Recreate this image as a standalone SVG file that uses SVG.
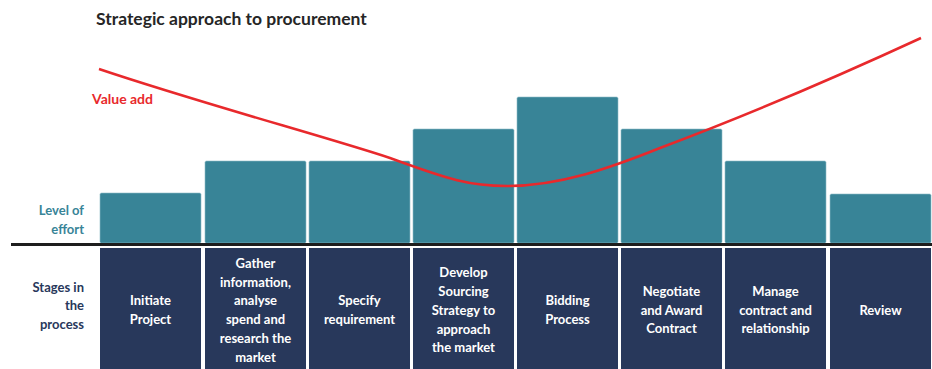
<svg xmlns="http://www.w3.org/2000/svg" width="932" height="369" viewBox="0 0 932 369">
<style>
.bar{fill:#388497;stroke:#8fbcc7;stroke-width:0.6}
.stage{fill:#28385b}
.st{font-family:Lato,"Liberation Sans",sans-serif;font-weight:bold;font-size:13px;fill:#ffffff;text-anchor:middle}
.lbl{font-family:Lato,"Liberation Sans",sans-serif;font-weight:bold;font-size:13px;text-anchor:end}
</style>
<rect width="932" height="369" fill="#ffffff"/>
<text x="96" y="25" font-family="Lato,'Liberation Sans',sans-serif" font-weight="bold" font-size="17.5" fill="#262626">Strategic approach to procurement</text>
<g id="effort-label"><text class="lbl" fill="#388497"><tspan x="84" y="215">Level of</tspan><tspan x="84" y="234">effort</tspan></text></g>
<g id="stages-label"><text class="lbl" fill="#28385b"><tspan x="84" y="292">Stages in</tspan><tspan x="84" y="310">the</tspan><tspan x="84" y="329">process</tspan></text></g>
<g id="bars">
<rect class="bar" x="100" y="193" width="101" height="50" rx="1.5"/>
<rect class="bar" x="205" y="161" width="101" height="82" rx="1.5"/>
<rect class="bar" x="309" y="161" width="101" height="82" rx="1.5"/>
<rect class="bar" x="413" y="129" width="101" height="114" rx="1.5"/>
<rect class="bar" x="517" y="97" width="101" height="146" rx="1.5"/>
<rect class="bar" x="621" y="129" width="101" height="114" rx="1.5"/>
<rect class="bar" x="725" y="161" width="101" height="82" rx="1.5"/>
<rect class="bar" x="830" y="194" width="101" height="49" rx="1.5"/>
</g>
<line x1="11" y1="244.5" x2="932" y2="244.5" stroke="#1e1e1e" stroke-width="3"/>
<g id="s1"><rect class="stage" x="100" y="248" width="101" height="121"/><text class="st"><tspan x="150.5" y="305">Initiate</tspan><tspan x="150.5" y="324">Project</tspan></text></g>
<g id="s2"><rect class="stage" x="205" y="248" width="101" height="121"/><text class="st"><tspan x="255.5" y="268">Gather</tspan><tspan x="255.5" y="287">information,</tspan><tspan x="255.5" y="305">analyse</tspan><tspan x="255.5" y="324">spend and</tspan><tspan x="255.5" y="343">research the</tspan><tspan x="255.5" y="362">market</tspan></text></g>
<g id="s3"><rect class="stage" x="309" y="248" width="101" height="121"/><text class="st"><tspan x="359.5" y="305">Specify</tspan><tspan x="359.5" y="324">requirement</tspan></text></g>
<g id="s4"><rect class="stage" x="413" y="248" width="101" height="121"/><text class="st"><tspan x="463.5" y="277">Develop</tspan><tspan x="463.5" y="296">Sourcing</tspan><tspan x="463.5" y="315">Strategy to</tspan><tspan x="463.5" y="334">approach</tspan><tspan x="463.5" y="352">the market</tspan></text></g>
<g id="s5"><rect class="stage" x="517" y="248" width="101" height="121"/><text class="st"><tspan x="567.5" y="305">Bidding</tspan><tspan x="567.5" y="324">Process</tspan></text></g>
<g id="s6"><rect class="stage" x="621" y="248" width="101" height="121"/><text class="st"><tspan x="671.5" y="296">Negotiate</tspan><tspan x="671.5" y="315">and Award</tspan><tspan x="671.5" y="333">Contract</tspan></text></g>
<g id="s7"><rect class="stage" x="725" y="248" width="101" height="121"/><text class="st"><tspan x="775.5" y="296">Manage</tspan><tspan x="775.5" y="315">contract and</tspan><tspan x="775.5" y="333">relationship</tspan></text></g>
<g id="s8"><rect class="stage" x="830" y="248" width="101" height="121"/><text class="st"><tspan x="880.5" y="315">Review</tspan></text></g>
<g id="value-curve">
<path d="M99,69 C200,103 330,138 390,158 C450,180 470,186 507,186 C560,186 610,168 660,148 C740,118 830,80 921,38" fill="none" stroke="#e8292c" stroke-width="2.5"/>
<text x="92" y="104" font-family="Lato,'Liberation Sans',sans-serif" font-weight="bold" font-size="14" fill="#e8292c">Value add</text>
</g>
</svg>
